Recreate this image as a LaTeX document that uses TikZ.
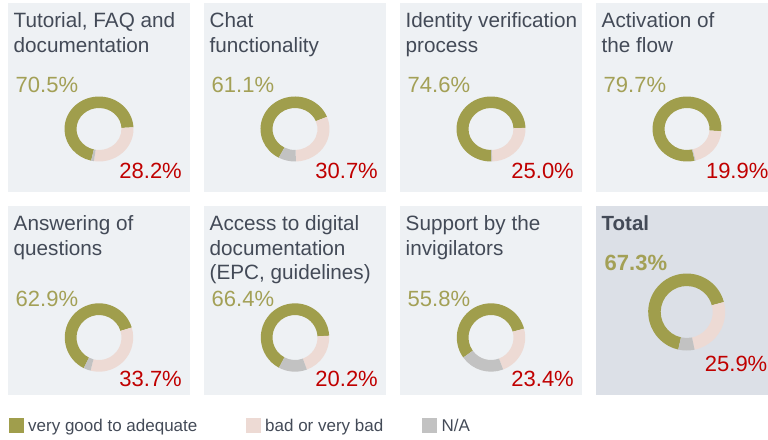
\documentclass[tikz,border=0pt]{standalone}
\usepackage{fontspec}
\setmainfont{Liberation Sans}
\definecolor{panelbg}{HTML}{EEF1F4}
\definecolor{totalbg}{HTML}{DCE0E7}
\definecolor{tcol}{HTML}{434A57}
\definecolor{cgreen}{HTML}{A09E4C}
\definecolor{gtext}{HTML}{A3A056}
\definecolor{cpink}{HTML}{EDDAD4}
\definecolor{cgray}{HTML}{C2C2C2}
\definecolor{rtext}{HTML}{C00000}
\newcommand\dRx{34.5}\newcommand\dRy{32.5}\newcommand\dIx{22.5}\newcommand\dIy{21}
\newcommand\dseg[3]{%
  \fill[#3] ({#1}:{\dRx} and {\dRy}) arc[start angle={#1}, end angle={#2}, x radius={\dRx}, y radius={\dRy}]
    -- ({#2}:{\dIx} and {\dIy}) arc[start angle={#2}, end angle={#1}, x radius={\dIx}, y radius={\dIy}] -- cycle;}
\newcommand\donut[6]{%
  \pgfmathsetmacro\dga{#3+3.6*#4}%
  \pgfmathsetmacro\dpa{#3-3.6*#5}%
  \pgfmathsetmacro\dna{\dpa-3.6*#6}%
  \begin{scope}[shift={(#1,#2)}, yscale=-1]
    \dseg{#3}{\dga}{cgreen}
    \dseg{\dpa}{#3}{cpink}
    \dseg{\dna}{\dpa}{cgray}
  \end{scope}}
\begin{document}
\begin{tikzpicture}[x=1pt,y=-1pt,
  title/.style={anchor=base west, inner sep=0pt, text=tcol, font=\fontsize{20.7}{24}\selectfont},
  gpct/.style={anchor=base west, inner sep=0pt, text=gtext, font=\fontsize{22}{26}\selectfont},
  rpct/.style={anchor=base east, inner sep=0pt, text=rtext, font=\fontsize{22}{26}\selectfont},
  leg/.style={anchor=base west, inner sep=0pt, text=tcol, font=\fontsize{17}{20}\selectfont}]
\useasboundingbox (0,0) rectangle (768,439);
% panels
\fill[panelbg] (8,3) rectangle (190,192);
\fill[panelbg] (204,3) rectangle (386,192);
\fill[panelbg] (400,3) rectangle (582,192);
\fill[panelbg] (596,3) rectangle (768,192);
\fill[panelbg] (8,206) rectangle (190,395);
\fill[panelbg] (204,206) rectangle (386,395);
\fill[panelbg] (400,206) rectangle (582,395);
\fill[totalbg] (596,206) rectangle (768,395);
% row 1 titles
\node[title] (t1a) at (13.5,27.5) {Tutorial, FAQ and};
\node[title] (t1b) at (13.5,52.5) {documentation};
\node[title] (t2a) at (209.5,27.5) {Chat};
\node[title] (t2b) at (209.5,52.5) {functionality};
\node[title] (t3a) at (405.5,27.5) {Identity verification};
\node[title] (t3b) at (405.5,52.5) {process};
\node[title] (t4a) at (601.5,27.5) {Activation of};
\node[title] (t4b) at (601.5,52.5) {the flow};
% row 2 titles
\node[title] (t5a) at (13.5,230.5) {Answering of};
\node[title] (t5b) at (13.5,255) {questions};
\node[title] (t6a) at (209.5,230.5) {Access to digital};
\node[title] (t6b) at (209.5,255) {documentation};
\node[title] (t6c) at (209.5,279.5) {(EPC, guidelines)};
\node[title] (t7a) at (405.5,230.5) {Support by the};
\node[title] (t7b) at (405.5,255) {invigilators};
\node[title, font=\fontsize{20.5}{24}\selectfont\bfseries] (t8a) at (601.5,230.5) {Total};
% row 1 percentages
\node[gpct] (g1) at (15.5,92) {70.5\%};
\node[gpct] (g2) at (211.5,92) {61.1\%};
\node[gpct] (g3) at (407.5,92) {74.6\%};
\node[gpct] (g4) at (603.5,92) {79.7\%};
\node[rpct] (r1) at (182,178) {28.2\%};
\node[rpct] (r2) at (378,178) {30.7\%};
\node[rpct] (r3) at (574,178) {25.0\%};
\node[rpct] (r4) at (768.6,178) {19.9\%};
% row 2 percentages
\node[gpct] (g5) at (15.5,306) {62.9\%};
\node[gpct] (g6) at (211.5,306) {66.4\%};
\node[gpct] (g7) at (407.5,306) {55.8\%};
\node[gpct, font=\fontsize{22}{26}\selectfont\bfseries] (g8) at (604.5,270) {67.3\%};
\node[rpct] (r5) at (182,386.7) {33.7\%};
\node[rpct] (r6) at (378,386.7) {20.2\%};
\node[rpct] (r7) at (574,386.7) {23.4\%};
\node[rpct] (r8) at (767.5,371.7) {25.9\%};
% row 1 donuts
\donut{99}{129}{3}{70.5}{28.2}{1.3}
\donut{295}{129}{22}{61.1}{30.7}{8.2}
\donut{491}{129}{2}{74.6}{25.0}{0.4}
\donut{687}{129}{-4}{79.7}{19.9}{0.4}
% row 2 donuts
\renewcommand\dRx{34.2}\renewcommand\dRy{34.2}\renewcommand\dIx{22.5}\renewcommand\dIy{22.5}
\donut{99}{337.5}{17}{62.9}{33.7}{3.4}
\donut{295}{337.5}{3}{66.4}{20.2}{13.4}
\donut{491}{337.5}{15}{55.8}{23.4}{20.8}
\renewcommand\dRx{38.5}\renewcommand\dRy{38.5}\renewcommand\dIx{26}\renewcommand\dIy{26}
\donut{686.7}{312}{15}{67.3}{25.9}{6.8}
% legend
\fill[cgreen] (9.3,418.3) rectangle (24,432.7);
\node[leg] (l1) at (28,431.7) {very good to adequate};
\fill[cpink] (246,418.3) rectangle (261,432.7);
\node[leg] (l2) at (265,431.7) {bad or very bad};
\fill[cgray] (422.3,418.3) rectangle (436.7,432.7);
\node[leg] (l3) at (441.3,431.7) {N/A};
\end{tikzpicture}
\end{document}
